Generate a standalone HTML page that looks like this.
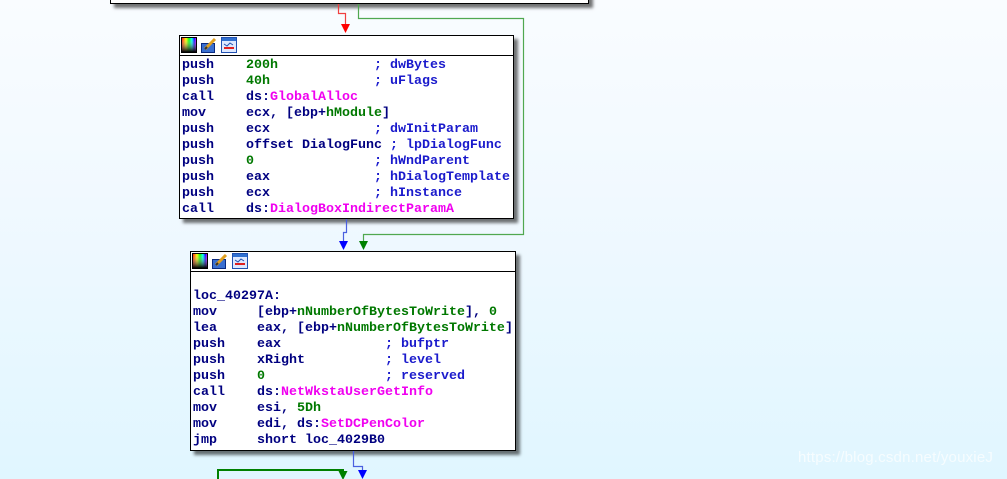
<!DOCTYPE html>
<html><head><meta charset="utf-8"><style>
html,body{margin:0;padding:0;}
body{width:1007px;height:479px;overflow:hidden;position:relative;
background:linear-gradient(to bottom,#f9fcff 0%,#f1f9ff 40%,#e0f6ff 100%);
font-family:"Liberation Mono",monospace;}
.blk{position:absolute;background:#fff;border:1px solid #000;box-shadow:4px 4px 3px rgba(0,0,0,0.55);box-sizing:border-box;}
.hdr{position:absolute;left:0;right:0;top:0;height:19px;border-bottom:1px solid #000;}
pre{position:absolute;margin:0;font-family:"Liberation Mono",monospace;font-weight:bold;font-size:13.33px;line-height:16px;color:#000080;white-space:pre;}
.g{color:#007800}.m{color:#f000f0}.c{color:#1a1acc}
.ic{position:absolute;top:1px;}
svg{position:absolute;left:0;top:0;}
.wm{position:absolute;left:798px;top:449px;font-family:"Liberation Sans",sans-serif;font-size:15px;color:rgba(255,255,255,0.7);letter-spacing:0.2px;}
</style></head><body>

<!-- top block fragment -->
<div class="blk" style="left:110px;top:-20px;width:479px;height:24px;"></div>

<!-- block 2 -->
<div class="blk" style="left:179px;top:35px;width:335px;height:184px;">
  <div class="hdr"></div>
  <svg class="ic" style="left:1px" width="16" height="16" viewBox="0 0 16 16"><defs><linearGradient id="r" x1="0" x2="1"><stop offset="0" stop-color="#f00"/><stop offset=".3" stop-color="#ff0"/><stop offset=".5" stop-color="#0f0"/><stop offset=".7" stop-color="#0ff"/><stop offset=".85" stop-color="#00f"/><stop offset="1" stop-color="#f0f"/></linearGradient><linearGradient id="d" x1="0" y1="0" x2="0" y2="1"><stop offset="0" stop-color="#fff" stop-opacity="0"/><stop offset="1" stop-color="#000"/></linearGradient></defs><rect x=".5" y=".5" width="15" height="15" fill="url(#r)" stroke="#000"/><rect x="1" y="1" width="14" height="14" fill="url(#d)"/></svg>
  <svg class="ic" style="left:21px" width="16" height="16" viewBox="0 0 16 16"><rect x=".5" y="6.5" width="13" height="9" fill="#3a6fd0" stroke="#0a2a80"/><line x1="4" y1="12" x2="14" y2="2" stroke="#e0a020" stroke-width="3"/><line x1="4" y1="12" x2="6" y2="10" stroke="#333" stroke-width="2"/></svg>
  <svg class="ic" style="left:41px" width="16" height="16" viewBox="0 0 16 16"><rect x=".5" y=".5" width="15" height="15" fill="#dde8ff" stroke="#2050b0"/><rect x="1" y="1" width="14" height="3" fill="#3070d0"/><path d="M3 7 L6 9 L9 6 L12 8" stroke="#2050b0" fill="none"/><line x1="3" y1="11" x2="13" y2="11" stroke="#e02020" stroke-width="2"/></svg>
</div>
<pre style="left:182px;top:58px;">push    <span class="g">200h</span>            <span class="c">; dwBytes</span>
push    <span class="g">40h</span>             <span class="c">; uFlags</span>
call    ds:<span class="m">GlobalAlloc</span>
mov     ecx, [ebp+<span class="g">hModule</span>]
push    ecx             <span class="c">; dwInitParam</span>
push    offset DialogFunc <span class="c">; lpDialogFunc</span>
push    <span class="g">0</span>               <span class="c">; hWndParent</span>
push    eax             <span class="c">; hDialogTemplate</span>
push    ecx             <span class="c">; hInstance</span>
call    ds:<span class="m">DialogBoxIndirectParamA</span></pre>

<!-- block 3 -->
<div class="blk" style="left:190px;top:251px;width:326px;height:200px;">
  <div class="hdr"></div>
  <svg class="ic" style="left:1px" width="16" height="16" viewBox="0 0 16 16"><rect x=".5" y=".5" width="15" height="15" fill="url(#r)" stroke="#000"/><rect x="1" y="1" width="14" height="14" fill="url(#d)"/></svg>
  <svg class="ic" style="left:21px" width="16" height="16" viewBox="0 0 16 16"><rect x=".5" y="6.5" width="13" height="9" fill="#3a6fd0" stroke="#0a2a80"/><line x1="4" y1="12" x2="14" y2="2" stroke="#e0a020" stroke-width="3"/><line x1="4" y1="12" x2="6" y2="10" stroke="#333" stroke-width="2"/></svg>
  <svg class="ic" style="left:41px" width="16" height="16" viewBox="0 0 16 16"><rect x=".5" y=".5" width="15" height="15" fill="#dde8ff" stroke="#2050b0"/><rect x="1" y="1" width="14" height="3" fill="#3070d0"/><path d="M3 7 L6 9 L9 6 L12 8" stroke="#2050b0" fill="none"/><line x1="3" y1="11" x2="13" y2="11" stroke="#e02020" stroke-width="2"/></svg>
</div>
<pre style="left:193px;top:289px;">loc_40297A:
mov     [ebp+<span class="g">nNumberOfBytesToWrite</span>], <span class="g">0</span>
lea     eax, [ebp+<span class="g">nNumberOfBytesToWrite</span>]
push    eax             <span class="c">; bufptr</span>
push    xRight          <span class="c">; level</span>
push    <span class="g">0</span>               <span class="c">; reserved</span>
call    ds:<span class="m">NetWkstaUserGetInfo</span>
mov     esi, <span class="g">5Dh</span>
mov     edi, ds:<span class="m">SetDCPenColor</span>
jmp     short loc_4029B0</pre>

<!-- connectors -->
<svg width="1007" height="479" viewBox="0 0 1007 479" style="pointer-events:none">
  <polyline points="338.5,4 338.5,13.5 345.5,13.5 345.5,26" fill="none" stroke="#f04040" stroke-width="1.2"/>
  <polygon points="341,24 350,24 345.5,33" fill="#ff0000"/>
  <polyline points="358.5,4 358.5,18.5 523.5,18.5 523.5,234.5 363.5,234.5 363.5,243" fill="none" stroke="#50a850" stroke-width="1.2"/>
  <polygon points="359,241 368,241 363.5,250" fill="#008000"/>
  <polyline points="346.5,219 346.5,232.5 343.5,232.5 343.5,243" fill="none" stroke="#4a60e0" stroke-width="1.2"/>
  <polygon points="339,241 348,241 343.5,250" fill="#0000ff"/>
  <polyline points="353.5,451 353.5,466.5 362.5,466.5 362.5,473" fill="none" stroke="#4a60e0" stroke-width="1.2"/>
  <polygon points="358,470 367,470 362.5,479" fill="#0000ff"/>
  <polyline points="218,480 218,470 343,470 343,474" fill="none" stroke="#008000" stroke-width="2"/>
  <polygon points="338.5,471 347.5,471 343,480" fill="#008000"/>
</svg>

<div class="wm">https://blog.csdn.net/youxieJ</div>
</body></html>
